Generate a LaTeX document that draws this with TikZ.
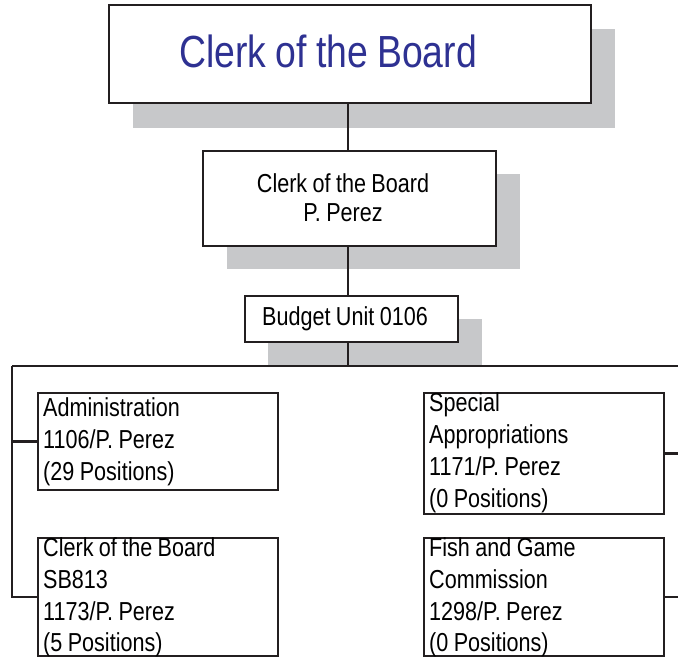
\documentclass[tikz,border=0pt]{standalone}
\usepackage{fontspec}
\setmainfont{Liberation Sans}[FakeStretch=0.83,WordSpace=0.9]
\frenchspacing
\definecolor{linegray}{HTML}{231F20}
\definecolor{shadowgray}{HTML}{C7C8CA}
\definecolor{titleblue}{HTML}{2E3192}
\newcommand{\midline}[1]{\hbox to 260pt{\hfil#1\hfil}}
\begin{document}
\begin{tikzpicture}[x=1pt,y=-1pt,
  orgbox/.style={draw=linegray,line width=2.2pt,fill=white,inner sep=0pt},
  link/.style={draw=linegray,line width=2.2pt},
  shade/.style={fill=shadowgray},
  natspace/.style={execute at begin node={\spaceskip=0pt\relax\xspaceskip=0pt\relax\frenchspacing}},
  boxtext/.style={inner sep=0pt,text width=230pt,align=left,anchor=base west,
    font=\fontsize{26}{32}\selectfont,natspace},
  headtext/.style={inner sep=0pt,text width=260pt,align=left,anchor=base,
    font=\fontsize{26}{29}\selectfont,natspace}]
\useasboundingbox (0,0) rectangle (678,660);

% box centres
\path (350,54)      coordinate (ptop);
\path (349.5,198.5) coordinate (pmid);
\path (351.5,319)   coordinate (pbud);

% drop shadows
\fill[shade] (133,29) rectangle (615,128);
\fill[shade] (227,174) rectangle (520,269);
\fill[shade] (268,319) rectangle (482,366);

% boxes
\node[orgbox,minimum width=482pt,minimum height=98pt] (top) at (ptop) {};
\node[orgbox,minimum width=293pt,minimum height=95pt] (mid) at (pmid) {};
\node[orgbox,minimum width=213pt,minimum height=46pt] (bud) at (pbud) {};
\node[orgbox,minimum width=240pt,minimum height=97pt]  (admin) at (158,441.5) {};
\node[orgbox,minimum width=240pt,minimum height=118pt] (sb) at (158,597) {};
\node[orgbox,minimum width=240pt,minimum height=121pt] (spec) at (544,453.5) {};
\node[orgbox,minimum width=240pt,minimum height=118pt] (fish) at (544,597) {};

% trunk, bus and branches
\coordinate (trunk) at (348,0);
\coordinate (busL) at (12,366);
\coordinate (busR) at (678,366);
\coordinate (edgeA) at (678,0);
\draw[link] (trunk |- top.south) -- (trunk |- mid.north);
\draw[link] (trunk |- mid.south) -- (trunk |- bud.north);
\draw[link] (trunk |- bud.south) -- (trunk |- busL);
\draw[link] (busL) -- (busR);
\draw[link] (busL) -- (busL |- sb.west) -- (sb.west);
\draw[link] (busL |- admin.west) -- (admin.west);
\draw[link] (spec.east) -- (spec.east -| edgeA);
\draw[link] (fish.east) -- (fish.east -| edgeA);

% labels
\node[inner sep=0pt,anchor=base,text=titleblue,font=\fontsize{45}{50}\selectfont]
  (toplbl) at (328,68) {Clerk of the Board};
\node[headtext] (midlbl) at (343,193) {\midline{Clerk of the Board}\\\midline{P. Perez}};
\node[inner sep=0pt,anchor=base,font=\fontsize{26}{32}\selectfont]
  (budlbl) at (345,326) {Budget Unit 0106};
\node[boxtext] (adminlbl) at (43,417) {Administration\\1106/P. Perez\\(29 Positions)};
\node[boxtext] (sblbl) at (43,556) {Clerk of the Board\\SB813\\1173/P. Perez\\(5 Positions)};
\node[boxtext] (speclbl) at (429,412) {Special\\Appropriations\\1171/P. Perez\\(0 Positions)};
\node[boxtext] (fishlbl) at (429,556) {Fish and Game\\Commission\\1298/P. Perez\\(0 Positions)};
\end{tikzpicture}
\end{document}
